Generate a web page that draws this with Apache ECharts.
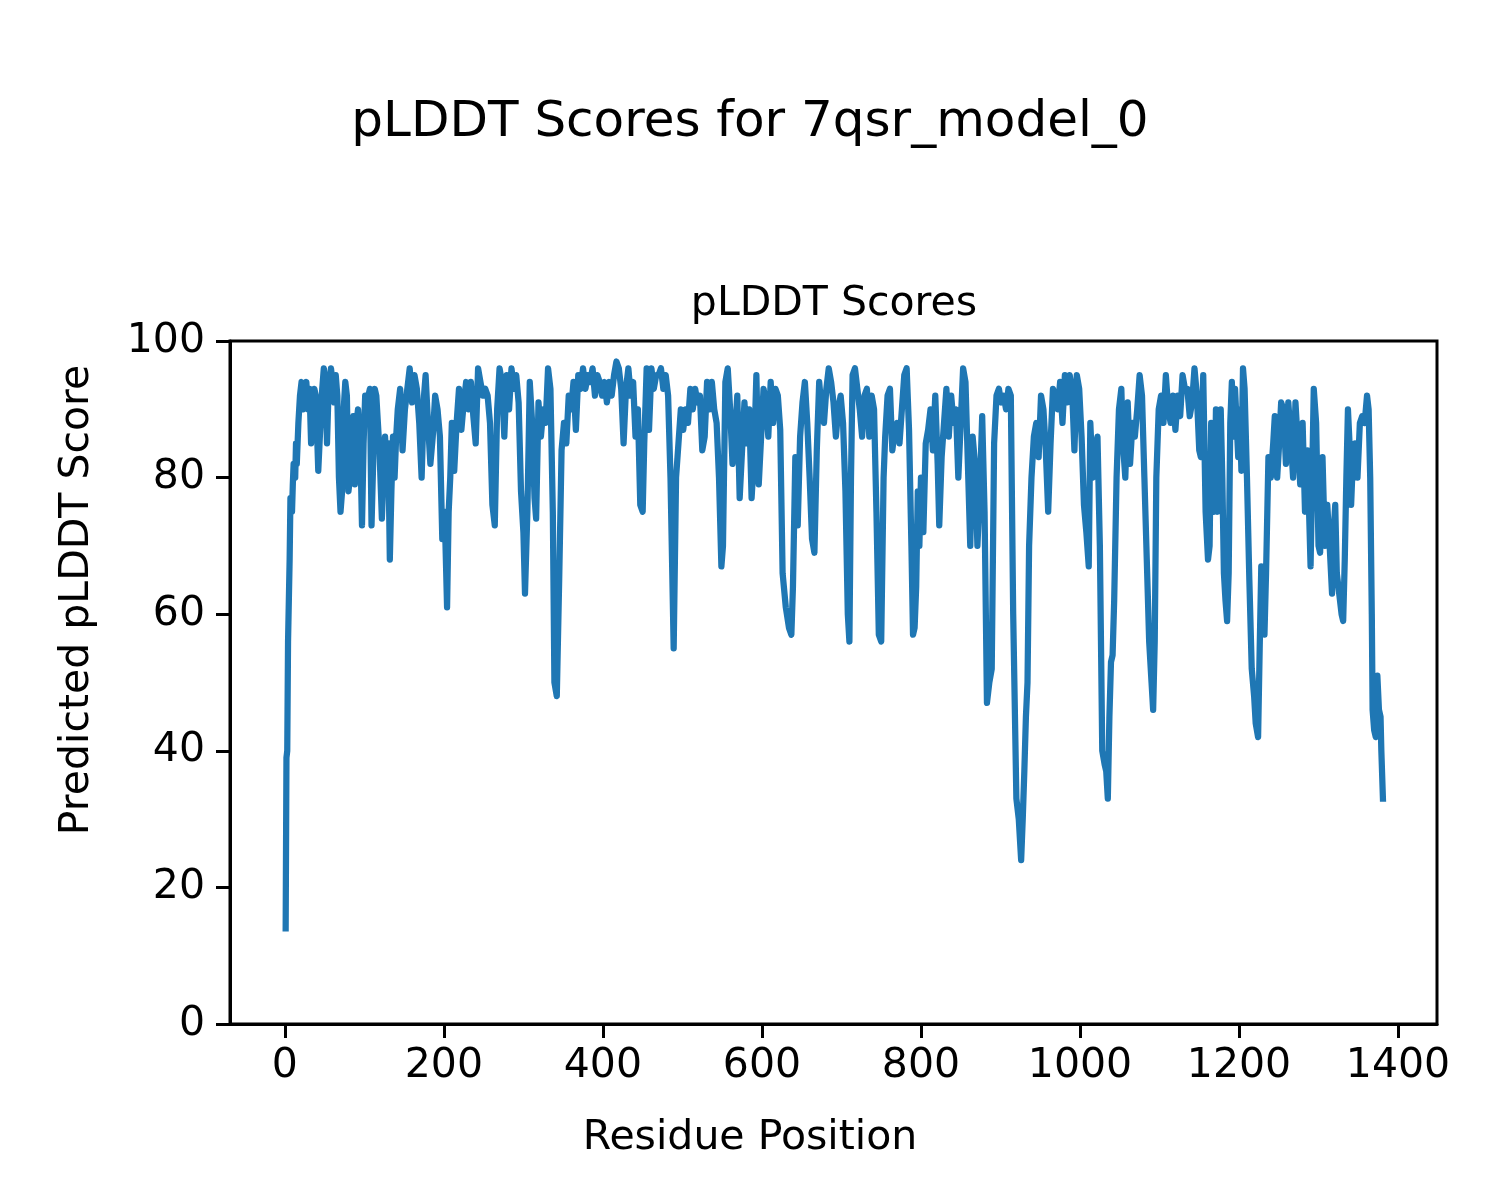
<!DOCTYPE html>
<html>
<head>
<meta charset="utf-8">
<script src="https://cdn.jsdelivr.net/npm/echarts@6/dist/echarts.min.js"></script>
<style>html,body{margin:0;padding:0;background:#fff}#c{width:1500px;height:1200px}</style>
</head>
<body>
<div id="c"></div>
<script>
const figureTitle = "pLDDT Scores for 7qsr_model_0";
const axesTitle = "pLDDT Scores";
const xAxisName = "Residue Position";
const yAxisName = "Predicted pLDDT Score";
const xTicks = [0, 200, 400, 600, 800, 1000, 1200, 1400];
const yTicks = [0, 20, 40, 60, 80, 100];

const residues = [
1,2,3,4,6,7,9,10,11,13,14,15,17,19,21,23,25,27,29,31,33,35,37,39,42,44,47,49,51,53,55,58,60,62,64,66,68,70,72,74,76,78,80,82,84,86,88,90,92,95,97,99,101,103,105,107,109,111,113,115,117,119,122,124,126,128,130,132,134,136,138,140,
142,145,148,151,154,157,160,163,166,169,172,175,177,180,183,186,189,192,195,198,201,204,206,208,210,213,216,219,222,225,228,231,234,237,240,243,246,249,252,255,258,261,264,267,270,273,276,279,282,285,288,291,294,297,300,302,305,308,311,314,316,319,322,325,328,331,334,337,339,342,345,348,351,354,357,360,
363,366,369,372,375,378,381,384,387,390,393,396,399,402,405,408,411,414,417,420,423,426,429,432,435,438,441,444,447,450,452,455,458,461,464,467,470,473,476,479,482,485,489,492,495,498,
501,504,507,510,513,516,519,522,525,528,531,534,537,540,543,546,549,551,554,557,560,563,566,569,572,575,578,581,584,587,590,593,596,599,602,605,608,611,614,617,620,623,626,630,634,637,639,642,645,648,651,654,657,660,663,666,669,672,675,678,
681,684,687,690,693,696,699,702,705,708,710,712,714,717,720,723,726,729,732,735,738,741,744,747,750,753,755,758,761,764,767,770,773,776,779,782,785,788,790,792,794,796,798,
800,803,806,809,812,815,818,821,823,826,829,832,835,838,841,844,847,850,853,856,859,862,865,868,871,874,877,880,883,886,889,892,895,898,901,904,907,910,913,916,920,923,926,928,930,932,934,936,
939,942,945,948,951,954,957,960,963,966,969,972,975,978,981,984,987,990,993,996,999,1002,1005,1008,1011,1013,1016,1019,1022,1025,1028,1031,1033,1035,1037,1039,1041,1043,1046,1049,1052,
1054,1057,1060,1063,1066,1069,1072,1075,1078,1081,1084,1087,1090,1092,1094,1096,1099,1102,1105,1108,1111,1114,1117,1120,1123,1126,1129,1132,1135,1138,1141,1144,1147,1150,1152,1155,1158,1161,
1163,1165,1167,1169,1171,1173,1175,1177,1179,1181,1183,1185,1187,1189,1191,1193,1195,1197,1199,1201,1203,1205,1207,1210,1213,1216,1219,1221,1224,1226,1228,1230,1232,1234,1237,1240,1243,1245,1248,
1250,1253,1256,1259,1262,1265,1268,1271,1274,1277,1280,1283,1286,1290,1294,1297,1300,1302,1305,1308,1311,1314,1317,1319,1321,1323,1326,1329,1331,1333,1335,1337,1339,1341,1343,1346,1349,1352,1355,1358,1361,1363,1365,1367,1368,1370,1372,1374,1376,1378,1379,1381
];

const scores = [
14,39,40,56,68,77,75,79,82,80,85,82,88,92,94,90,93,94,90,93,85,90,93,92,81,86,93,96,94,85,93,96,94,91,95,92,80,75,78,90,94,92,78,80,88,89,79,88,90,84,73,85,92,88,92,93,73,82,93,92,88,84,74,80,86,82,85,68,78,86,80,86,
90,93,84,90,93,96,91,95,93,88,80,92,95,88,82,86,92,90,86,71,75,61,75,80,88,81,88,93,87,91,94,90,94,89,85,96,94,92,93,92,88,76,73,90,96,94,86,95,90,96,93,95,91,78,72,63,75,94,88,77,74,91,86,90,88,96,93,75,50,48,65,84,88,85,92,90,
94,87,95,93,96,93,95,94,96,92,95,94,92,94,91,94,92,95,97,96,93,85,93,96,92,94,86,90,76,75,85,96,87,96,93,95,95,96,93,95,92,80,55,80,85,90,
87,90,88,93,90,93,91,92,84,86,94,90,94,90,88,80,67,70,94,96,90,82,86,92,77,84,91,85,90,77,83,95,79,86,93,91,86,94,88,93,92,87,66,61,58,57,64,83,73,86,91,94,88,80,71,69,84,94,90,88,
93,96,94,91,86,90,92,88,78,60,56,80,95,96,93,90,86,92,93,86,92,90,75,57,56,80,86,92,93,84,87,88,85,90,95,96,87,70,57,58,64,78,70,
80,72,85,87,90,84,92,82,73,83,88,93,86,92,88,90,80,88,96,94,82,70,86,82,70,78,89,75,47,50,52,85,92,93,91,92,90,93,92,60,33,30,24,30,37,45,50,70,
80,86,88,83,92,90,84,75,85,93,92,90,94,88,95,91,95,93,84,95,93,86,76,72,67,88,80,84,86,70,40,38,37,33,45,53,54,62,80,90,93,
85,80,91,82,88,86,90,95,92,80,68,56,50,46,56,80,90,92,88,95,90,88,92,87,92,89,95,93,93,89,91,96,92,84,83,95,75,68,
70,88,80,75,90,75,82,90,80,66,62,59,66,88,94,86,93,88,83,90,81,96,93,80,65,52,48,44,42,55,67,62,57,66,83,80,85,89,80,
84,91,90,82,91,86,80,91,85,79,88,75,84,67,93,88,70,69,83,70,76,70,63,72,76,66,63,60,59,68,80,90,85,76,82,85,80,88,89,88,92,90,80,60,46,43,42,51,46,45,40,33
];

const seriesData = residues.map((r, i) => [r, scores[i]]);

const chart = echarts.init(document.getElementById('c'), null, {renderer: 'canvas'});
const FONT = 'DejaVu Sans';
chart.setOption({
  backgroundColor: '#ffffff',
  animation: false,
  title: [
    {text: figureTitle, left: 745, top: 118, textAlign: 'center', textVerticalAlign: 'middle',
     textStyle: {fontFamily: FONT, fontSize: 50, fontWeight: 'normal', color: '#000'}},
    {text: axesTitle, left: 829, top: 299, textAlign: 'center', textVerticalAlign: 'middle',
     textStyle: {fontFamily: FONT, fontSize: 41, fontWeight: 'normal', color: '#000'}}
  ],
  grid: {left: 230, right: 63, top: 341, bottom: 176, show: true, borderColor: '#000', borderWidth: 3, backgroundColor: 'transparent'},
  xAxis: {
    type: 'value', min: -69, max: 1449,
    splitLine: {show: false},
    axisLine: {show: true, onZero: false, lineStyle: {color: '#000', width: 3}},
    axisTick: {show: true, inside: false, length: 14, lineStyle: {color: '#000', width: 3}, customValues: xTicks},
    axisLabel: {show: true, margin: 22, fontFamily: FONT, fontSize: 41, color: '#000', customValues: xTicks,
      formatter: v => String(v)}
  },
  yAxis: {
    type: 'value', min: 0, max: 100, interval: 20,
    splitLine: {show: false},
    axisLine: {show: true, onZero: false, lineStyle: {color: '#000', width: 3}},
    axisTick: {show: true, inside: false, length: 14, lineStyle: {color: '#000', width: 3}},
    axisLabel: {show: true, margin: 25, fontFamily: FONT, fontSize: 41, color: '#000',
      customValues: yTicks, formatter: v => String(v)}
  },
  graphic: [
    {type: 'text', x: 750, y: 1138, style: {text: xAxisName, textAlign: 'center', textVerticalAlign: 'middle', font: '41px "DejaVu Sans"', fill: '#000'}},
    {type: 'text', rotation: Math.PI / 2, x: 77, y: 600, style: {text: yAxisName, textAlign: 'center', textVerticalAlign: 'middle', font: '41px "DejaVu Sans"', fill: '#000'}}
  ],
  series: [{
    type: 'line', data: seriesData, showSymbol: false, symbol: 'none',
    lineStyle: {color: '#1f77b4', width: 6.25, join: 'round', cap: 'square'},
    clip: true
  }]
});
</script>
</body>
</html>
